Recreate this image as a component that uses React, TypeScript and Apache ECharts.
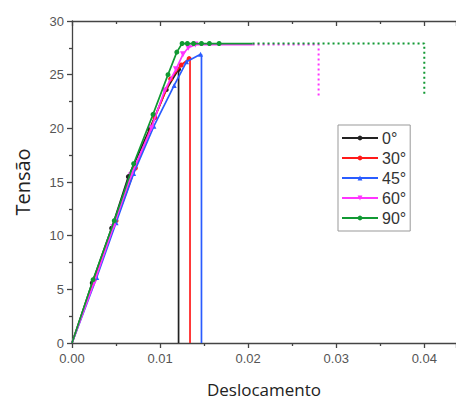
import React, { useEffect, useRef } from "react";
import * as echarts from "echarts";

const seriesNames = ["0°", "30°", "45°", "60°", "90°"];
const seriesColors = ["#222222", "#ff1a1a", "#2a5cff", "#ff33ff", "#119933"];
const seriesSymbols = ["circle", "circle", "triangle", "path://M0,0 L10,0 L5,9 Z", "circle"];

// [deslocamento, tensão] measured points (markers)
const deg0: number[][] = [[0, 0], [0.0023, 5.6], [0.0045, 10.7], [0.0064, 15.5], [0.0088, 19.9], [0.0107, 23.6], [0.0121, 25.5]];
const deg0Drop: number[][] = [[0.0121, 25.5], [0.0121, 0]];

const deg30: number[][] = [[0, 0], [0.0026, 6.0], [0.0050, 11.4], [0.0072, 16.3], [0.0094, 21.0], [0.0112, 24.6], [0.0124, 25.9], [0.0133, 26.5]];
const deg30Drop: number[][] = [[0.0134, 26.5], [0.0134, 0]];

const deg45: number[][] = [[0, 0], [0.0028, 6.1], [0.0050, 11.2], [0.0070, 15.8], [0.0093, 20.2], [0.0116, 24.0], [0.0130, 26.2], [0.0146, 26.9]];
const deg45Drop: number[][] = [[0.0147, 26.9], [0.0147, 0]];

const deg60: number[][] = [[0, 0], [0.0025, 5.6], [0.0047, 10.8], [0.0067, 15.6], [0.0090, 20.0], [0.0105, 23.5], [0.0118, 25.5], [0.0126, 26.9], [0.0132, 27.5], [0.0140, 27.8], [0.0205, 27.8]];
const deg60Dotted: number[][] = [[0.0205, 27.8], [0.0280, 27.8], [0.0280, 23.0]];

const deg90: number[][] = [[0, 0], [0.0024, 5.9], [0.0048, 11.4], [0.0070, 16.7], [0.0092, 21.3], [0.0109, 25.0], [0.0119, 27.1], [0.0125, 27.9], [0.0131, 27.9], [0.0138, 27.9], [0.0147, 27.9], [0.0156, 27.9], [0.0167, 27.9], [0.0205, 27.9]];
const deg90Dotted: number[][] = [[0.0205, 27.9], [0.0400, 27.9], [0.0400, 23.0]];

const xTicks = [0, 0.01, 0.02, 0.03, 0.04];

export default function App() {
  const ref = useRef<HTMLDivElement>(null);
  useEffect(() => {
    if (!ref.current) return;
    const chart = echarts.init(ref.current, undefined, { renderer: "svg" });
    const mk = (i: number, data: number[][], lastNoSymbol: boolean) =>
      data.map((p, j) =>
        (j === 0 || (lastNoSymbol && j === data.length - 1)) ? { value: p, symbol: "none" } : { value: p }
      );
    const main = (i: number, data: number[][], lastNoSymbol: boolean) => ({
      name: seriesNames[i],
      type: "line",
      data: mk(i, data, lastNoSymbol),
      symbol: seriesSymbols[i],
      symbolSize: i === 3 ? 6 : 5,
      showSymbol: true,
      color: seriesColors[i],
      lineStyle: { width: 1.7, color: seriesColors[i] },
      itemStyle: { color: seriesColors[i] },
      z: 2 + i,
    });
    const extra = (i: number, data: number[][], dotted: boolean) => ({
      name: seriesNames[i] + "_x",
      type: "line",
      data,
      symbol: "none",
      color: seriesColors[i],
      lineStyle: dotted ? { width: 2, color: seriesColors[i], type: [2, 3] } : { width: 1.7, color: seriesColors[i] },
      z: 2 + i,
    });
    const axisLineStyle = { color: "#444", width: 1.3 };
    chart.setOption({
      animation: false,
      backgroundColor: "#fff",
      grid: { left: 72, right: 0, top: 21, bottom: 56, containLabel: false, outerBoundsMode: "none" },
      legend: {
        data: seriesNames,
        orient: "vertical",
        left: 338,
        top: 125,
        padding: [5, 4, 5, 3],
        itemWidth: 36,
        itemHeight: 6,
        itemGap: 4,
        borderColor: "#999",
        borderWidth: 1,
        textStyle: { fontSize: 16, lineHeight: 16, color: "#333", fontFamily: "Liberation Sans", padding: [0, 0, 0, -1] },
      },
      xAxis: [
        {
          type: "value",
          min: 0,
          max: 0.0436,
          interval: 0.01,
          name: "Deslocamento",
          nameLocation: "middle",
          nameGap: 37,
          nameTextStyle: { fontSize: 17, lineHeight: 18, color: "#222", fontFamily: "Open Sans" },
          axisLine: { show: true, lineStyle: axisLineStyle },
          axisTick: { show: true, length: 5, lineStyle: axisLineStyle },
          minorTick: { show: true, splitNumber: 2, length: 3, lineStyle: axisLineStyle },
          splitLine: { show: false },
          axisLabel: {
            fontSize: 13,
            color: "#555",
            fontFamily: "Liberation Sans",
            margin: 9,
            formatter: (v: number) => (xTicks.some((t) => Math.abs(t - v) < 1e-9) ? v.toFixed(2) : ""),
          },
        },
        {
          type: "value",
          position: "top",
          min: 0,
          max: 0.0436,
          interval: 0.01,
          axisLine: { show: true, lineStyle: axisLineStyle },
          axisTick: { show: true, inside: true, length: 5, lineStyle: axisLineStyle },
          minorTick: { show: true, splitNumber: 2, length: 3, lineStyle: axisLineStyle },
          splitLine: { show: false },
          axisLabel: { show: false },
        },
      ],
      yAxis: {
        type: "value",
        min: 0,
        max: 30,
        interval: 5,
        name: "Tensão",
        nameLocation: "middle",
        nameGap: 40,
        nameTextStyle: { fontSize: 20, color: "#222", fontFamily: "Open Sans" },
        axisLine: { show: true, lineStyle: axisLineStyle },
        axisTick: { show: true, length: 5, lineStyle: axisLineStyle },
        minorTick: { show: true, splitNumber: 2, length: 3, lineStyle: axisLineStyle },
        splitLine: { show: false },
        axisLabel: { fontSize: 13, color: "#555", fontFamily: "Liberation Sans", margin: 8 },
      },
      series: [
        main(0, deg0, false),
        extra(0, deg0Drop, false),
        main(1, deg30, false),
        extra(1, deg30Drop, false),
        main(2, deg45, false),
        extra(2, deg45Drop, false),
        main(3, deg60, true),
        extra(3, deg60Dotted, true),
        main(4, deg90, true),
        extra(4, deg90Dotted, true),
      ],
    });
    return () => chart.dispose();
  }, []);
  return <div ref={ref} style={{ position: "fixed", left: 0, top: 0, width: 456, height: 399 }} />;
}
